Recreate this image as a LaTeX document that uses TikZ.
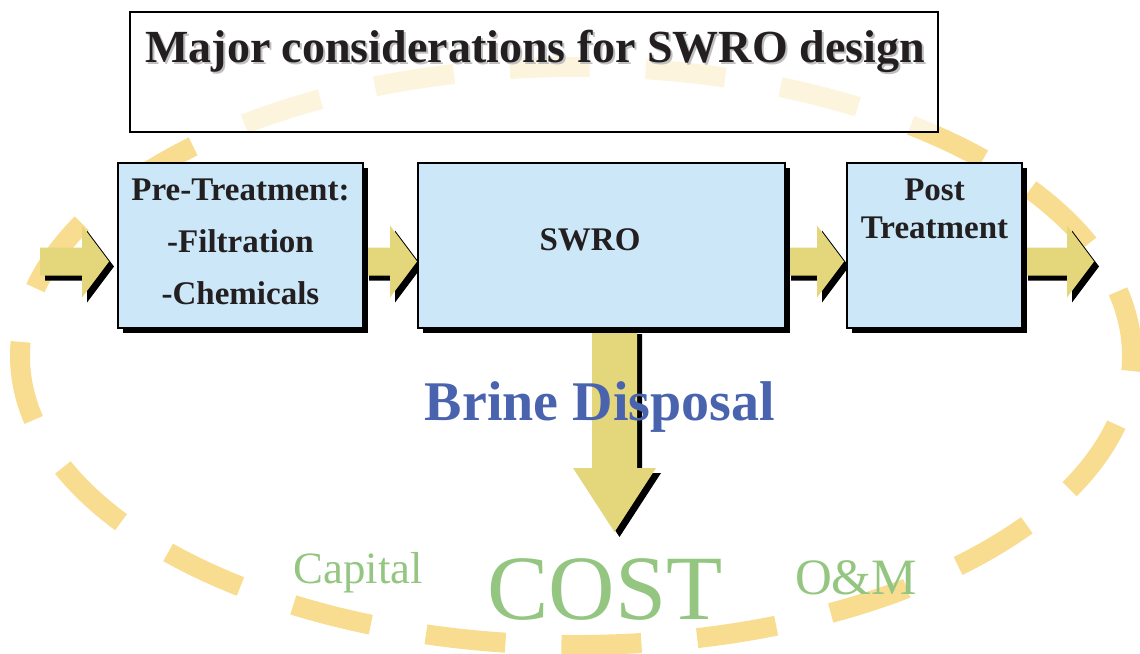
\documentclass[tikz,border=0pt]{standalone}
\usepackage{fontspec}
\setmainfont{Liberation Serif}
\usepackage{tikz}
\usetikzlibrary{positioning,shadows,calc,backgrounds}
\definecolor{boxblue}{HTML}{CBE7F8}
\definecolor{arrowyellow}{HTML}{E3D67B}
\definecolor{dashyellow}{HTML}{F8DD90}
\definecolor{brineblue}{HTML}{4A63AE}
\definecolor{costgreen}{HTML}{94C682}
\definecolor{inkblack}{HTML}{231F20}
% block arrows: from, to, x offset, y offset, colour
\newcommand{\flowarrow}[5]{%
  \fill[#5] let \p1=(#1),\p2=(#2) in
    (\x1+#3,\y2-1pt+#4) -- (\x2-13.5pt+#3,\y2-1pt+#4) -- (\x2-13.5pt+#3,\y2+10pt+#4)
    -- (\x2+#3,\y2-8pt+#4) -- (\x2-13.5pt+#3,\y2-26pt+#4) -- (\x2-13.5pt+#3,\y2-15pt+#4)
    -- (\x1+#3,\y2-15pt+#4) -- cycle;}
\newcommand{\drainarrow}[5]{%
  \fill[#5] let \p1=(#1),\p2=(#2) in
    (\x2-11.25pt+#3,\y1+#4) -- (\x2+11.25pt+#3,\y1+#4) -- (\x2+11.25pt+#3,\y2+32pt+#4)
    -- (\x2+20.75pt+#3,\y2+32pt+#4) -- (\x2+#3,\y2+#4) -- (\x2-20.75pt+#3,\y2+32pt+#4)
    -- (\x2-11.25pt+#3,\y2+32pt+#4) -- cycle;}
\newcommand{\blockarrow}[2]{\flowarrow{#1}{#2}{2.5pt}{-2.5pt}{black}\flowarrow{#1}{#2}{0pt}{0pt}{arrowyellow}}
\tikzset{stage/.style={rectangle,draw,fill=boxblue,line width=1pt,minimum height=82.5pt,inner sep=0pt,
    drop shadow={fill=black,opacity=1,shadow xshift=2.5pt,shadow yshift=-2.5pt}}}
\tikzset{stagetext/.style={font=\fontsize{16.5}{26}\selectfont\bfseries,align=center,text=inkblack,inner sep=0pt}}
\tikzset{titletext/.style={font=\fontsize{23}{28}\selectfont\bfseries,anchor=base,inner sep=0pt}}
\tikzset{dashring/.style={draw=dashyellow,line width=10pt,dash pattern=on 40pt off 28pt,dash phase=32.5pt}}

\begin{document}
\begin{tikzpicture}[x=0.5pt,y=-0.5pt]
    \useasboundingbox (0,0) rectangle (1140,653);

    \node[draw,line width=1pt,fill=white,fill opacity=0.7,minimum width=404pt,minimum height=60pt] (frame) at (534,72) {};
    \node[titletext,text=black!25] (titleshade) at (537,64) {Major considerations for SWRO design};
    \node[titletext,text=inkblack] (title) at (535,62) {Major considerations for SWRO design};

    \node[stage,minimum width=122.5pt] (pre) at (240.5,245.5) {};
    \node[stage,minimum width=183.5pt] (swro) at (601.5,245.5) {};
    \node[stage,minimum width=87.5pt] (post) at (934.5,245.5) {};

    \node[stagetext,anchor=north,below=8pt of pre.north] (pretext) {Pre-Treatment:\\-Filtration\\-Chemicals};
    \node[stagetext,anchor=base] (swrotext) at ($(swro.center)+(-5.75pt,-2.25pt)$) {SWRO};
    \node[stagetext,anchor=north,below=8pt of post.north,font=\fontsize{16.5}{19}\selectfont\bfseries] (posttext) {Post\\Treatment};

    \coordinate (feed) at (40,245.5);
    \coordinate (product) at (1094,245.5);
    \coordinate (brineend) at (614.5,532);

    \begin{scope}[on background layer]
        \draw[dashring] (576,356) ellipse [x radius=556,y radius=289];
        \blockarrow{feed}{$(pre.west)+(-4pt,0)$}
        \blockarrow{pre.east}{swro.west}
        \blockarrow{swro.east}{$(post.west)+(-1pt,0)$}
        \blockarrow{post.east}{product}
        \drainarrow{swro.south}{brineend}{2.5pt}{-2.5pt}{black}
        \drainarrow{swro.south}{brineend}{0pt}{0pt}{arrowyellow}
    \end{scope}

    \node[font=\fontsize{28}{32}\selectfont\bfseries,text=brineblue,anchor=base] (brine) at (600,420) {Brine Disposal};
    \node[font=\fontsize{22.4}{26}\selectfont,text=costgreen,anchor=base] (capital) at (358.5,583) {Capital};
    \node[font=\fontsize{46}{50}\selectfont,text=costgreen,anchor=base] (cost) at (605,619) {COST};
    \node[font=\fontsize{25.5}{28}\selectfont,text=costgreen,anchor=base] (om) at (856,594) {O\&M};
\end{tikzpicture}
\end{document}
